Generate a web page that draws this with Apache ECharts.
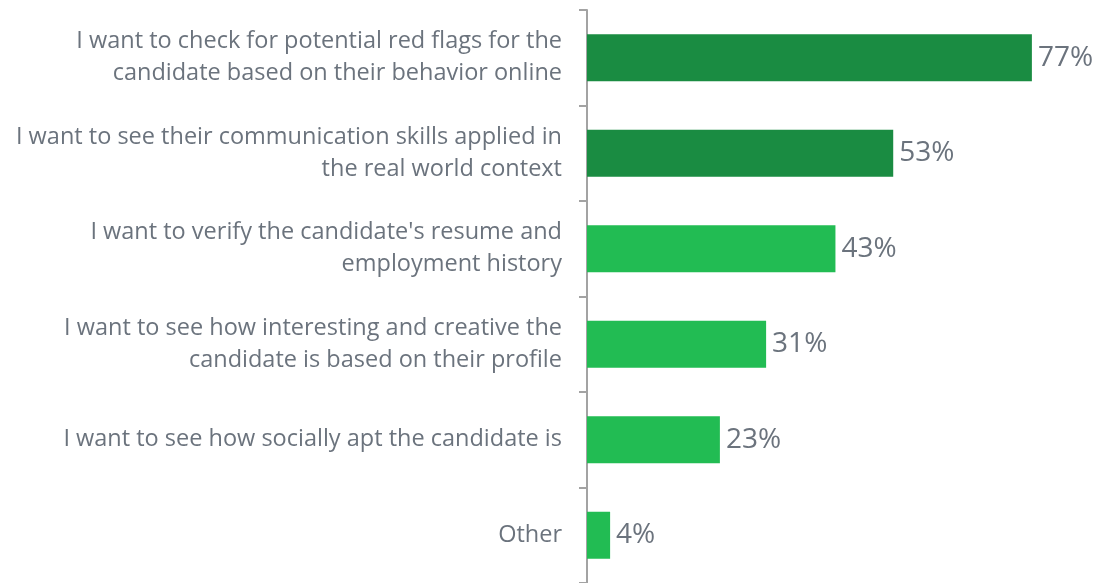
<!DOCTYPE html>
<html>
<head>
<meta charset="utf-8">
<script src="https://cdn.jsdelivr.net/npm/echarts@6/dist/echarts.min.js"></script>
<style>
  html, body { margin: 0; padding: 0; background: #ffffff; }
  #chart { width: 1109px; height: 583px; }
</style>
</head>
<body>
<div id="chart"></div>
<script>
// Reasons for looking at a candidate's social media profile
const categories = [
  "I want to check for potential red flags for the\ncandidate based on their behavior online",
  "I want to see their communication skills applied in\nthe real world context",
  "I want to verify the candidate's resume and\nemployment history",
  "I want to see how interesting and creative the\ncandidate is based on their profile",
  "I want to see how socially apt the candidate is",
  "Other"
];
const values = [77, 53, 43, 31, 23, 4];
// Top two answers are highlighted in the darker green
const highlighted = [true, true, false, false, false, false];

const DARK = "#1a8c42";
const LIGHT = "#22bc53";
const TEXT = "#6b737d";
const FONT = "'Open Sans', 'Noto Sans', sans-serif";

const chart = echarts.init(document.getElementById("chart"), null, { renderer: "canvas" });

chart.setOption({
  animation: false,
  grid: { left: 587, right: 2, top: 10, bottom: -2, containLabel: false },
  xAxis: {
    type: "value",
    min: 0,
    max: 90,
    show: false
  },
  yAxis: {
    type: "category",
    data: categories,
    inverse: true,
    axisLine: { show: true, lineStyle: { color: "#a3a3a3", width: 2 } },
    axisTick: { show: true, length: 8, lineStyle: { color: "#a3a3a3", width: 2 } },
    axisLabel: {
      margin: 25,
      color: TEXT,
      fontFamily: FONT,
      fontSize: 23.5,
      lineHeight: 32,
      align: "right"
    }
  },
  series: [{
    type: "bar",
    barWidth: 47,
    data: values.map((v, i) => ({
      value: v,
      itemStyle: { color: highlighted[i] ? DARK : LIGHT }
    })),
    label: {
      show: true,
      position: "right",
      distance: 6,
      formatter: p => p.value + "%",
      color: TEXT,
      fontFamily: FONT,
      fontSize: 28
    }
  }]
});
</script>
</body>
</html>
